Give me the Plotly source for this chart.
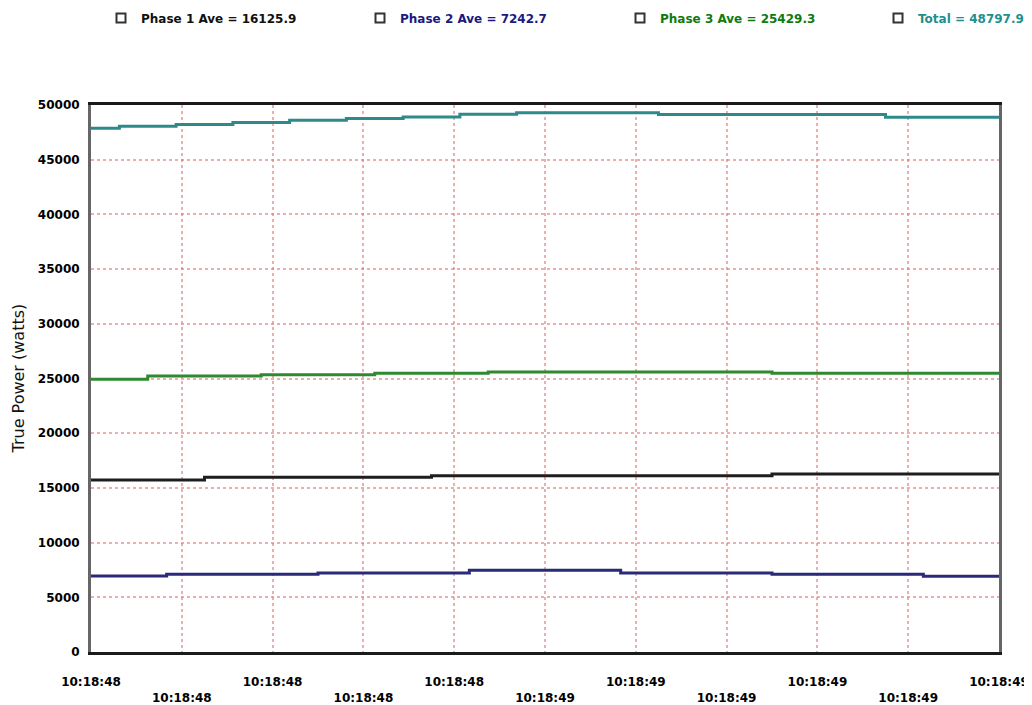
import plotly.graph_objects as go

# ---- data (x in tick-interval units, 0..10 across the axis) ----
tick_pos = [0, 1, 2, 3, 4, 5, 6, 7, 8, 9, 10]
tick_labels = ["10:18:48", "10:18:48", "10:18:48", "10:18:48", "10:18:48", "10:18:49",
               "10:18:49", "10:18:49", "10:18:49", "10:18:49", "10:18:49"]
x_end = 10

phase1_t = [0, 1.25, 3.75, 7.5]
phase1_v = [15720, 15970, 16120, 16270]

phase2_t = [0, 0.8333, 2.5, 4.1667, 5.8333, 7.5, 9.1667]
phase2_v = [6950, 7100, 7220, 7480, 7220, 7100, 6920]

phase3_t = [0, 0.625, 1.875, 3.125, 4.375, 7.5]
phase3_v = [24930, 25230, 25350, 25470, 25600, 25470]

total_t = [0, 0.3125, 0.9375, 1.5625, 2.1875, 2.8125, 3.4375, 4.0625, 4.6875, 6.25, 8.75]
total_v = [47880, 48060, 48210, 48400, 48610, 48760, 48910, 49160, 49300, 49130, 48880]

legend_names = ["Phase 1 Ave = 16125.9", "Phase 2 Ave = 7242.7",
                "Phase 3 Ave = 25429.3", "Total = 48797.9"]
y_ticks = [0, 5000, 10000, 15000, 20000, 25000, 30000, 35000, 40000, 45000, 50000]
y_title = "True Power (watts)"

line_colors = ["#1e1e1e", "#2a2a7a", "#2f8a2f", "#2e8a8a"]
text_colors = ["#111111", "#1a1a80", "#0f7a0f", "#1f8f8f"]

series = [(phase1_t, phase1_v), (phase2_t, phase2_v), (phase3_t, phase3_v), (total_t, total_v)]

FONT = "DejaVu Sans"
# page body has an 8px margin; figure sized so the plot area lands at x 91..999, y 105..652
W, H = 1024, 697
ML, MR, MT, MB = 83, 33, 97, 53
PW = W - ML - MR
PH = H - MT - MB

fig = go.Figure()

for (t, v), c in zip(series, line_colors):
    fig.add_trace(go.Scatter(
        x=list(t) + [x_end], y=list(v) + [v[-1]],
        mode="lines", line=dict(color=c, width=3, shape="hv"),
        showlegend=False, hoverinfo="skip"))

legend_ids = ["legend", "legend2", "legend3", "legend4"]
legend_px = [101, 360, 620, 878]  # left edge of each legend entry, page pixels

for name, tc, lid in zip(legend_names, text_colors, legend_ids):
    fig.add_trace(go.Scatter(
        x=[None], y=[None], mode="markers",
        marker=dict(symbol="square-open", size=9, color="#333333",
                    line=dict(width=2, color="#333333")),
        name=f"<span style='color:{tc}'>{name}</span>", showlegend=True, legend=lid))

ticktext = [lab if i % 2 == 0 else "<br>" + lab for i, lab in enumerate(tick_labels)]

layout_legends = {}
for lid, px in zip(legend_ids, legend_px):
    layout_legends[lid] = dict(orientation="h", x=(px - 8 - ML) / PW,
                               y=1 + (105 - 18) / PH, xanchor="left", yanchor="middle",
                               font=dict(family=FONT, size=12, weight="bold"),
                               itemwidth=30, bgcolor="rgba(0,0,0,0)")

grid_style = dict(showgrid=True, gridcolor="rgba(225,120,120,0.6)", griddash="3px,3px", gridwidth=2)

fig.update_layout(
    width=W, height=H,
    margin=dict(l=ML, r=MR, t=MT, b=MB, autoexpand=False),
    paper_bgcolor="white", plot_bgcolor="white",
    font=dict(family=FONT, size=12, color="black"),
    showlegend=True,
    xaxis=dict(range=[0, 10], tickmode="array", tickvals=tick_pos, ticktext=ticktext,
               showline=True, linecolor="#1a1a1a", linewidth=3, mirror=True,
               zeroline=False, ticks="", ticklabelstandoff=17, automargin=False,
               tickfont=dict(family=FONT, size=12, color="black", weight="bold"), **grid_style),
    yaxis=dict(range=[0, 50000], tickmode="array", tickvals=y_ticks,
               ticktext=[str(v) for v in y_ticks],
               showline=True, linecolor="#666666", linewidth=3, mirror=True,
               zeroline=False, ticks="", ticklabelstandoff=6, automargin=False,
               tickfont=dict(family=FONT, size=12, color="black", weight="bold"), **grid_style),
    annotations=[dict(text=y_title, x=(18 - 8 - ML) / PW, xref="paper", y=0.5, yref="paper",
                      showarrow=False, textangle=-90, xanchor="center", yanchor="middle",
                      font=dict(family=FONT, size=16, color="#111111"))],
    **layout_legends,
)

fig.write_html("out.html")
